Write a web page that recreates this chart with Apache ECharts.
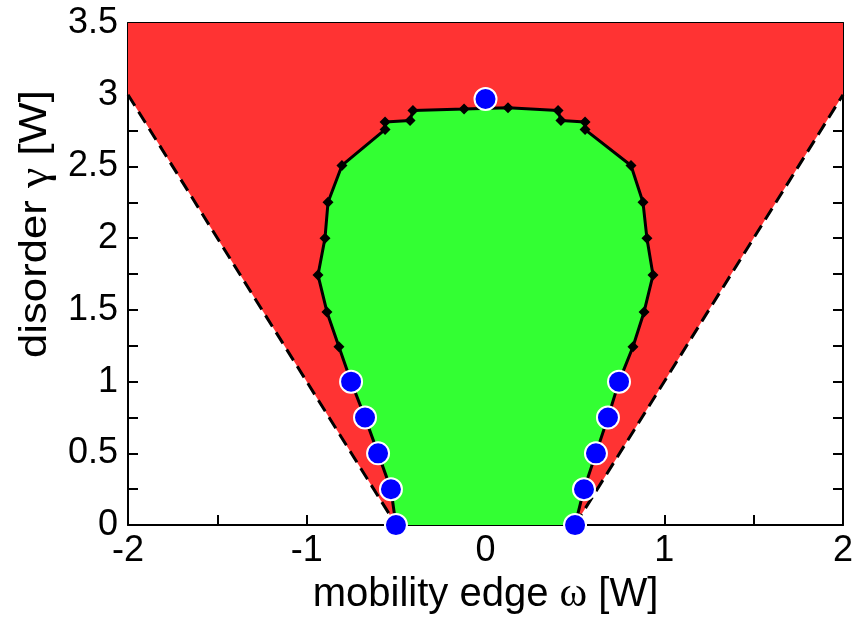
<!DOCTYPE html>
<html>
<head>
<meta charset="utf-8">
<script src="https://cdn.jsdelivr.net/npm/echarts@6/dist/echarts.min.js"></script>
<style>
html,body{margin:0;padding:0;background:#fff;}
#chart{width:859px;height:621px;}
</style>
</head>
<body>
<div id="chart"></div>
<script>
// ---- data ----
var xRange = [-2, 2];
var yRange = [0, 3.5];
var xTickLabels = ['-2', '-1', '0', '1', '2'];
var yTickLabels = ['0', '0.5', '1', '1.5', '2', '2.5', '3', '3.5'];
var xTitle = 'mobility edge {g|ω} [W]';
var yTitle = 'disorder {g|γ} [W]';

// boundary of the region (black line with diamonds)
var boundary = [
  [-0.501, 0], [-0.529, 0.25], [-0.601, 0.5], [-0.674, 0.75], [-0.752, 1.0],
  [-0.820, 1.243], [-0.887, 1.486], [-0.937, 1.743], [-0.898, 2.0], [-0.881, 2.25],
  [-0.803, 2.507], [-0.562, 2.757], [-0.562, 2.81], [-0.422, 2.82], [-0.406, 2.89],
  [-0.120, 2.90], [0.126, 2.91], [0.406, 2.89], [0.422, 2.82], [0.557, 2.81],
  [0.557, 2.757], [0.814, 2.507], [0.881, 2.25], [0.903, 2.0], [0.937, 1.743],
  [0.887, 1.486], [0.825, 1.243], [0.747, 1.0], [0.685, 0.75], [0.618, 0.5],
  [0.551, 0.25], [0.501, 0]
];

// blue circles
var bluePoints = [
  [0, 2.97],
  [-0.752, 1.0], [-0.674, 0.75], [-0.601, 0.5], [-0.529, 0.25], [-0.501, 0],
  [0.747, 1.0], [0.685, 0.75], [0.618, 0.5], [0.551, 0.25], [0.501, 0]
];

// dashed band edges
var dashedLeft = [[-2, 3], [-0.5, 0]];
var dashedRight = [[0.5, 0], [2, 3]];

// red region polygon (above the dashed V, within the axes)
var redRegion = [[-2, 3.5], [2, 3.5]].concat(dashedRight.slice().reverse()).concat(dashedLeft.slice().reverse());

function polygonSeries(points, color, z) {
  return {
    type: 'custom',
    silent: true,
    z: z,
    clip: true,
    data: [points[0]],
    renderItem: function (params, api) {
      var pts = points.map(function (p) { return api.coord(p); });
      return { type: 'polygon', shape: { points: pts }, style: { fill: color } };
    }
  };
}

var fontFamily = '"Liberation Sans", Arial, sans-serif';
var serif = '"Liberation Serif", "DejaVu Serif", serif';
var axisCommon = {
  axisLine: { show: true, onZero: false, lineStyle: { color: '#000', width: 2 } },
  axisTick: { show: true, inside: true, length: 10, lineStyle: { color: '#000', width: 2 } },
  splitLine: { show: false }
};

function fmtX(v) {
  var s = String(Math.round(v * 100) / 100);
  return xTickLabels.indexOf(s) >= 0 ? s : '';
}
function fmtY(v) {
  var s = String(Math.round(v * 100) / 100);
  return yTickLabels.indexOf(s) >= 0 ? s : '';
}

var titleStyle = {
  fontSize: 40, color: '#000', fontFamily: fontFamily,
  rich: { g: { fontSize: 42, color: '#000', fontFamily: serif } }
};

var chart = echarts.init(document.getElementById('chart'), null, { renderer: 'canvas' });
chart.setOption({
  animation: false,
  backgroundColor: '#fff',
  grid: { left: 128, right: 16, top: 23, bottom: 94, containLabel: false },
  graphic: [{
    type: 'text',
    x: 36, y: 224,
    rotation: Math.PI / 2,
    scaleX: 1.15,
    silent: true,
    style: {
      text: yTitle,
      fontSize: 38, fontFamily: fontFamily, fill: '#000',
      align: 'center', verticalAlign: 'middle',
      rich: { g: { fontSize: 40, fontFamily: serif, fill: '#000' } }
    }
  }],
  xAxis: [
    Object.assign({
      type: 'value', position: 'bottom', min: xRange[0], max: xRange[1], interval: 0.5,
      name: xTitle, nameLocation: 'middle', nameGap: 48,
      nameTextStyle: titleStyle,
      axisLabel: { show: true, interval: 0, margin: 8, fontSize: 36, color: '#000', fontFamily: fontFamily, formatter: fmtX, showMinLabel: true, showMaxLabel: true }
    }, axisCommon),
    Object.assign({
      type: 'value', position: 'top', min: xRange[0], max: xRange[1], interval: 0.5,
      axisLabel: { show: false }
    }, axisCommon)
  ],
  yAxis: [
    Object.assign({
      type: 'value', position: 'left', min: yRange[0], max: yRange[1], interval: 0.25,
      axisLabel: { show: true, interval: 0, margin: 10, fontSize: 36, color: '#000', fontFamily: fontFamily, formatter: fmtY, showMinLabel: true, showMaxLabel: true }
    }, axisCommon),
    Object.assign({
      type: 'value', position: 'right', min: yRange[0], max: yRange[1], interval: 0.25,
      axisLabel: { show: false }
    }, axisCommon)
  ],
  series: [
    polygonSeries(redRegion, '#ff3333', 1),
    polygonSeries(boundary, '#33ff33', 2),
    {
      type: 'line', data: dashedLeft, z: 3, symbol: 'none', silent: true,
      lineStyle: { color: '#000', width: 3, type: [13, 7] }
    },
    {
      type: 'line', data: dashedRight, z: 3, symbol: 'none', silent: true,
      lineStyle: { color: '#000', width: 3, type: [13, 7] }
    },
    {
      type: 'line', data: boundary, z: 4, symbol: 'diamond', symbolSize: 11, showAllSymbol: true, silent: true,
      itemStyle: { color: '#000', opacity: 1 }, lineStyle: { color: '#000', width: 3 }
    },
    {
      type: 'scatter', data: bluePoints, z: 5, symbol: 'circle', symbolSize: 22, clip: false, silent: true,
      itemStyle: { color: '#0000ff', borderColor: '#fff', borderWidth: 2, opacity: 1 }
    }
  ]
});
</script>
</body>
</html>
